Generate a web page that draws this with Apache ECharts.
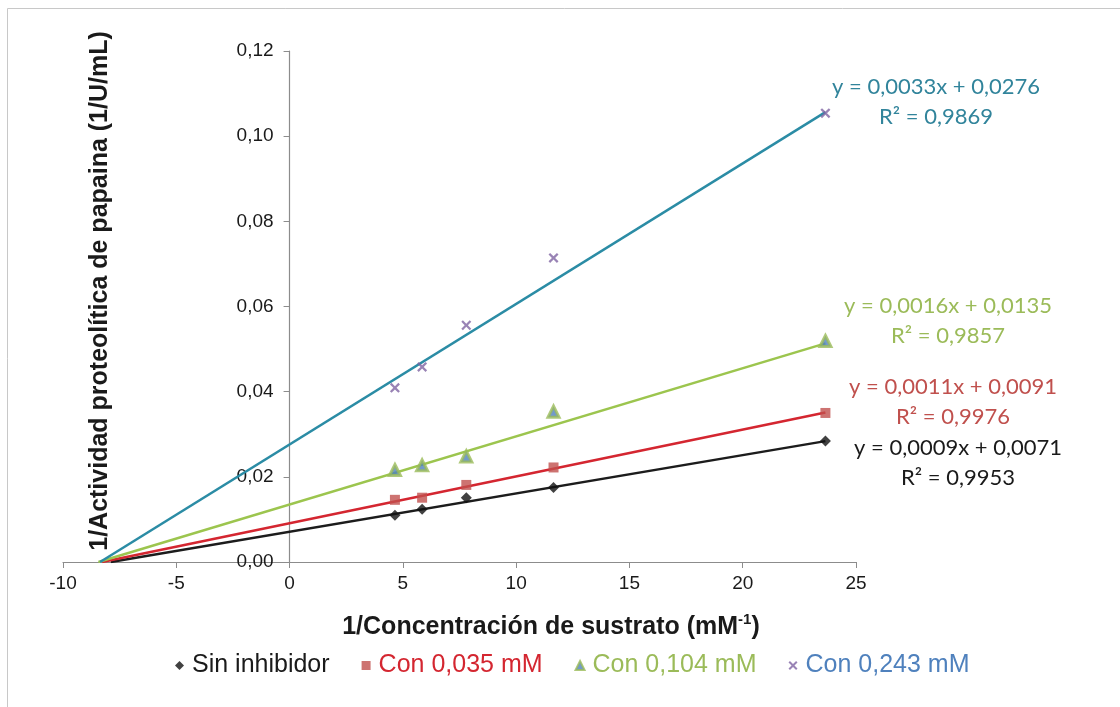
<!DOCTYPE html>
<html>
<head>
<meta charset="utf-8">
<script src="https://cdn.jsdelivr.net/npm/echarts@6/dist/echarts.min.js"></script>
<style>
  html, body { margin: 0; padding: 0; background: #ffffff; }
  #chart { width: 1120px; height: 707px; }
</style>
</head>
<body>
<div id="chart"></div>
<script>
// 1/[S] values (mM^-1) shared by every series
const invSubstrate = [4.65, 5.85, 7.80, 11.65, 23.65];

// 1/activity (1/U/mL) for each inhibitor level
const sinInhibidor = [0.0110, 0.0124, 0.0151, 0.0175, 0.0284];
const con035 = [0.0146, 0.0151, 0.0181, 0.0222, 0.0350];
const con104 = [0.0216, 0.0227, 0.0248, 0.0353, 0.0519];
const con243 = [0.0409, 0.0458, 0.0556, 0.0714, 0.1054];

const seriesNames = ['Sin inhibidor', 'Con 0,035 mM', 'Con 0,104 mM', 'Con 0,243 mM'];

// Linear fits (slope, intercept) and R² as printed on the chart
const fitSlope = [0.0009, 0.0011, 0.0016, 0.0033];
const fitIntercept = [0.0071, 0.0091, 0.0135, 0.0276];
const fitR2 = ['0,9953', '0,9976', '0,9857', '0,9869'];

// Axis ticks
const xTicks = [-10, -5, 0, 5, 10, 15, 20, 25];
const yTicks = [0, 0.02, 0.04, 0.06, 0.08, 0.10, 0.12];

const GRID_LEFT = 63, GRID_RIGHT = 264;
const GRID_W = 1120 - GRID_LEFT - GRID_RIGHT;

const xMark = 'path://M0,1.6 L1.6,0 L5,3.4 L8.4,0 L10,1.6 L6.6,5 L10,8.4 L8.4,10 L5,6.6 L1.6,10 L0,8.4 L3.4,5 Z';

const markerStyles = [
  { symbol: 'diamond', size: 11, item: { color: '#111111' } },
  { symbol: 'rect', size: 10, item: { color: '#c0504d' } },
  { symbol: 'triangle', size: 11, item: { color: '#4f81bd', borderColor: '#9bbb59', borderWidth: 3 } },
  { symbol: xMark, size: 10, item: { color: '#8064a2' } }
];
const lineColors = ['#1c1c1c', '#d42630', '#9cc54e', '#2b8ca5'];
const legendTextColors = ['#1a1a1a', '#d42630', '#9bbb59', '#4f81bd'];
const eqColors = ['#1a1a1a', '#c0504d', '#9bbb59', '#31849b'];
// Label anchor (centre x, centre y) for each equation block
const eqPos = [[958, 463], [953, 402], [948, 321], [936, 102]];

const seriesValues = [sinInhibidor, con035, con104, con243];

const fmt = (v) => v.toFixed(4).replace('.', ',');

const series = [];
// Trend lines: from the x-intercept (y = 0) up to the last measured point
seriesValues.forEach((vals, i) => {
  const m = fitSlope[i], b = fitIntercept[i];
  const x0 = -b / m;
  const x1 = invSubstrate[invSubstrate.length - 1];
  series.push({
    name: 'Lineal (' + seriesNames[i] + ')',
    type: 'line',
    data: [[x0, 0], [x1, m * x1 + b]],
    showSymbol: false,
    symbol: 'none',
    lineStyle: { color: lineColors[i], width: 2.5 },
    silent: true,
    z: 2
  });
});
// Measured points
seriesValues.forEach((vals, i) => {
  series.push({
    name: seriesNames[i],
    type: 'scatter',
    data: invSubstrate.map((x, k) => [x, vals[k]]),
    symbol: markerStyles[i].symbol,
    symbolSize: markerStyles[i].size,
    itemStyle: markerStyles[i].item,
    z: 3
  });
});

const graphic = [
  {
    type: 'rect',
    shape: { x: 7.5, y: 8.5, width: 1300, height: 900 },
    style: { fill: 'none', stroke: '#c8c8c8', lineWidth: 1 },
    silent: true
  },
  {
    type: 'text',
    x: 551, y: 627,
    style: {
      text: '{b|1/Concentración de sustrato (mM}{s|-1}{b|)}',
      align: 'center', verticalAlign: 'middle',
      fill: '#1a1a1a',
      rich: {
        b: { fontFamily: 'Liberation Sans', fontWeight: 'bold', fontSize: 25, fill: '#1a1a1a', lineHeight: 29 },
        s: { fontFamily: 'Liberation Sans', fontWeight: 'bold', fontSize: 15, fill: '#1a1a1a', verticalAlign: 'top', lineHeight: 29 }
      }
    }
  },
  {
    type: 'text',
    x: 100, y: 291,
    rotation: Math.PI / 2,
    style: {
      text: '1/Actividad proteolítica de papaina (1/U/mL)',
      align: 'center', verticalAlign: 'middle',
      fill: '#1a1a1a',
      font: 'bold 25px "Liberation Sans"'
    }
  }
];
eqPos.forEach((p, i) => {
  graphic.push({
    type: 'text',
    x: p[0], y: p[1],
    style: {
      text: 'y = ' + fmt(fitSlope[i]) + 'x + ' + fmt(fitIntercept[i]) + '\nR² = ' + fitR2[i],
      align: 'center', verticalAlign: 'middle',
      fill: eqColors[i],
      fontFamily: 'Lato', fontSize: 22, lineHeight: 30
    }
  });
});

const xMin = xTicks[0], xMax = xTicks[xTicks.length - 1];
// The y axis sits on x = 0: shift it right from the grid's left edge
const yAxisOffset = -GRID_W * (0 - xMin) / (xMax - xMin);

const option = {
  backgroundColor: '#ffffff',
  animation: false,
  grid: { left: GRID_LEFT, right: GRID_RIGHT, top: 51, bottom: 145, containLabel: false },
  xAxis: {
    type: 'value',
    min: xMin, max: xMax, interval: 5,
    axisLine: { show: true, onZero: true, lineStyle: { color: '#8c8c8c', width: 1.2 } },
    axisTick: { show: true, length: 6, inside: false, lineStyle: { color: '#8c8c8c' } },
    axisLabel: { color: '#1a1a1a', fontFamily: 'Liberation Sans', fontSize: 19, margin: 12 },
    splitLine: { show: false }
  },
  yAxis: {
    type: 'value',
    position: 'left',
    offset: yAxisOffset,
    min: yTicks[0], max: yTicks[yTicks.length - 1], interval: 0.02,
    axisLine: { show: true, onZero: false, lineStyle: { color: '#8c8c8c', width: 1.2 } },
    axisTick: { show: true, length: 6, lineStyle: { color: '#8c8c8c' } },
    axisLabel: {
      color: '#1a1a1a', fontFamily: 'Liberation Sans', fontSize: 19, margin: 16,
      formatter: (v) => v.toFixed(2).replace('.', ',')
    },
    splitLine: { show: false }
  },
  legend: {
    left: 170, top: 648,
    itemWidth: 9, itemHeight: 9, itemGap: 32,
    textStyle: { fontFamily: 'Liberation Sans', fontSize: 25, padding: [0, 0, 0, 3] },
    data: seriesNames.map((n, i) => ({
      name: n,
      icon: i === 0 ? 'diamond' : i === 1 ? 'rect' : i === 2 ? 'triangle' : xMark,
      textStyle: { color: legendTextColors[i] }
    }))
  },
  graphic: graphic,
  series: series
};

const chart = echarts.init(document.getElementById('chart'), null, { renderer: 'canvas' });
chart.setOption(option);
</script>
</body>
</html>
